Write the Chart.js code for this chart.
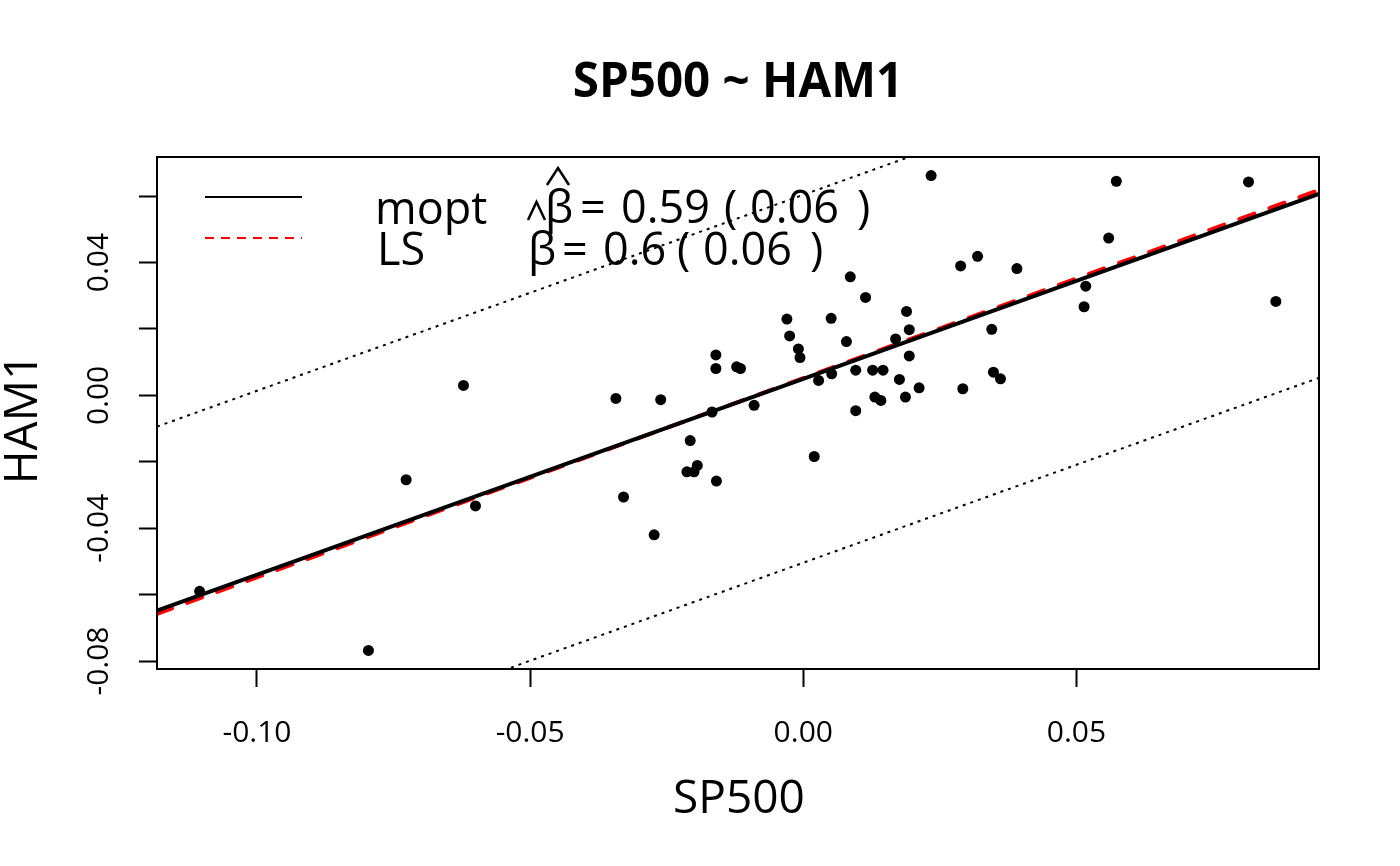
<!DOCTYPE html>
<html lang="en">
<head>
   <meta charset="UTF-8">
   <title>SP500 ~ HAM1</title>
   <style>
      body { margin: 0; background: #fff; }
      #wrap { width: 1400px; height: 866px; }
   </style>
</head>
<body>
   <div id="wrap"><canvas id="fit" width="1400" height="866"></canvas></div>

   <script src="https://cdn.jsdelivr.net/npm/chart.js@4.4.0/dist/chart.umd.min.js"></script>
   <script>
      // monthly returns
      const sp500 = [-0.0622, 0.0234, 0.0086, 0.0114, 0.0189, -0.0030, 0.0051, 0.0194, -0.0025, 0.0079,
                     0.0169, -0.0009, -0.0006, -0.0160, 0.0194, -0.0160, -0.0122, -0.0115, 0.0096, 0.0052,
                     0.0127, 0.0146, 0.0028, 0.0176, 0.0212, -0.0343, -0.0261, -0.0090, 0.0131, 0.0142,
                     0.0187, 0.0096, -0.0167, 0.0573, 0.0815, 0.0559, 0.0288, 0.0319, 0.0391, 0.0517,
                     0.0514, 0.0865, 0.0345, 0.0348, 0.0361, 0.0292, -0.0727, -0.0600, -0.1105, -0.0796,
                     -0.0207, -0.0194, -0.0213, -0.0200, -0.0159, 0.0020, -0.0329, -0.0273];
      const ham1  = [0.0030, 0.0662, 0.0357, 0.0295, 0.0253, 0.0230, 0.0232, 0.0198, 0.0179, 0.0162,
                     0.0170, 0.0140, 0.0114, 0.0122, 0.0119, 0.0081, 0.0086, 0.0081, 0.0076, 0.0065,
                     0.0076, 0.0076, 0.0045, 0.0048, 0.0023, -0.0009, -0.0013, -0.0030, -0.0005, -0.0015,
                     -0.0005, -0.0046, -0.0050, 0.0645, 0.0643, 0.0474, 0.0390, 0.0419, 0.0382, 0.0329,
                     0.0267, 0.0283, 0.0199, 0.0070, 0.0050, 0.0020, -0.0254, -0.0333, -0.0590, -0.0768,
                     -0.0136, -0.0211, -0.0230, -0.0230, -0.0258, -0.0184, -0.0306, -0.0420];

      // fitted lines
      const fitNames = ['mopt', 'LS'];
      const fitIntercept = [0.0050, 0.0052];
      const fitSlope = [0.59, 0.60];
      const fitSE = [0.06, 0.06];
      const bandWidth = 0.0554;   // dotted lines either side of mopt

      const xTicks = [-0.10, -0.05, 0.00, 0.05];
      const yTickLabels = [-0.08, -0.04, 0.00, 0.04];
      const xRange = [-0.1183, 0.0944];
      const yRange = [-0.0824, 0.0718];

      const FONT = "'Open Sans', 'DejaVu Sans', sans-serif";

      let linePts = (a, b) => xRange.map(x => ({ x: x, y: a + b * x }));

      let points = sp500.map((x, i) => ({ x: x, y: ham1[i] }));

      // box, titles and legend
      const decor = {
         id: 'decor',
         afterDraw(chart) {
            const ctx = chart.ctx;
            const a = chart.chartArea;
            ctx.save();
            ctx.strokeStyle = '#000';
            ctx.lineWidth = 2;
            ctx.strokeRect(a.left, a.top, a.right - a.left, a.bottom - a.top);

            ctx.fillStyle = '#000';
            ctx.textAlign = 'center';
            ctx.textBaseline = 'alphabetic';
            ctx.font = 'bold 47.5px ' + FONT;
            ctx.fillText('SP500 ~ HAM1', 738, 97);
            ctx.font = '46px ' + FONT;
            ctx.fillText('SP500', 739, 813);
            ctx.save();
            ctx.translate(37, 419);
            ctx.rotate(-Math.PI / 2);
            ctx.fillText('HAM1', 0, 0);
            ctx.restore();

            // legend
            ctx.lineWidth = 2;
            ctx.beginPath();
            ctx.moveTo(205, 197); ctx.lineTo(302, 197);
            ctx.stroke();
            ctx.strokeStyle = '#ff0000';
            ctx.setLineDash([9, 7]);
            ctx.beginPath();
            ctx.moveTo(205, 238); ctx.lineTo(302, 238);
            ctx.stroke();
            ctx.setLineDash([]);

            ctx.textAlign = 'left';
            ctx.font = '45px ' + FONT;
            ctx.fillText(fitNames[0], 375, 224);
            ctx.fillText(fitNames[1], 377, 265);

            const rows = [
               { y: 223, beta: 545, eq: 580, est: 621, lp: 724, se: 750, rp: 857 },
               { y: 265, beta: 528, eq: 562, est: 603, lp: 677, se: 703, rp: 810 }
            ];
            rows.forEach((r, i) => {
               ctx.fillText('\u03B2', r.beta, r.y);
               ctx.fillText('=', r.eq, r.y);
               ctx.fillText(String(fitSlope[i]), r.est, r.y);
               ctx.fillText('(', r.lp, r.y);
               ctx.fillText(fitSE[i].toFixed(2), r.se, r.y);
               ctx.fillText(')', r.rp, r.y);
            });
            // hats over beta
            ctx.strokeStyle = '#000';
            ctx.lineWidth = 2.5;
            ctx.beginPath();
            ctx.moveTo(547, 185); ctx.lineTo(558, 168); ctx.lineTo(569, 185);
            ctx.moveTo(528, 220); ctx.lineTo(536.5, 202); ctx.lineTo(545, 220);
            ctx.stroke();
            ctx.restore();
         }
      };

      const ctx = document.getElementById('fit').getContext('2d');
      const chart = new Chart(ctx, {
         type: 'scatter',
         data: {
            datasets: [
               {
                  label: 'data', data: points,
                  pointRadius: 5.5, pointBackgroundColor: '#000', pointBorderWidth: 0,
                  showLine: false
               },
               {
                  label: 'upper', data: linePts(fitIntercept[0] + bandWidth, fitSlope[0]),
                  showLine: true, pointRadius: 0, borderColor: '#000', borderWidth: 2,
                  borderDash: [3, 5]
               },
               {
                  label: 'lower', data: linePts(fitIntercept[0] - bandWidth, fitSlope[0]),
                  showLine: true, pointRadius: 0, borderColor: '#000', borderWidth: 2,
                  borderDash: [3, 5]
               },
               {
                  label: fitNames[0], data: linePts(fitIntercept[0], fitSlope[0]),
                  showLine: true, pointRadius: 0, borderColor: '#000', borderWidth: 4
               },
               {
                  label: fitNames[1], data: linePts(fitIntercept[1], fitSlope[1]),
                  showLine: true, pointRadius: 0, borderColor: '#ff0000', borderWidth: 4,
                  borderDash: [16, 16], borderCapStyle: 'round'
               }
            ]
         },
         options: {
            responsive: false,
            animation: false,
            devicePixelRatio: 1,
            layout: { padding: { left: 0, top: 157, right: 81, bottom: 0 } },
            plugins: { legend: { display: false }, tooltip: { enabled: false }, title: { display: false } },
            scales: {
               x: {
                  type: 'linear', min: xRange[0], max: xRange[1],
                  afterFit: s => { s.height = 197; },
                  border: { display: false },
                  grid: { drawOnChartArea: false, drawTicks: true, tickLength: 18, tickWidth: 2, tickColor: '#000' },
                  ticks: {
                     stepSize: 0.05, includeBounds: false, maxRotation: 0, autoSkip: false,
                     color: '#000', padding: 28, font: { family: FONT, size: 30 },
                     callback: v => v.toFixed(2)
                  }
               },
               y: {
                  type: 'linear', min: yRange[0], max: yRange[1],
                  afterFit: s => { s.width = 157; },
                  border: { display: false },
                  grid: { drawOnChartArea: false, drawTicks: true, tickLength: 18, tickWidth: 2, tickColor: '#000' },
                  ticks: {
                     stepSize: 0.02, includeBounds: false, autoSkip: false,
                     minRotation: 90, maxRotation: 90, crossAlign: 'center',
                     color: '#000', padding: 5, font: { family: FONT, size: 30 },
                     callback: v => yTickLabels.some(t => Math.abs(t - v) < 1e-9) ? v.toFixed(2) : ''
                  }
               }
            }
         },
         plugins: [decor]
      });
   </script>
</body>
</html>
